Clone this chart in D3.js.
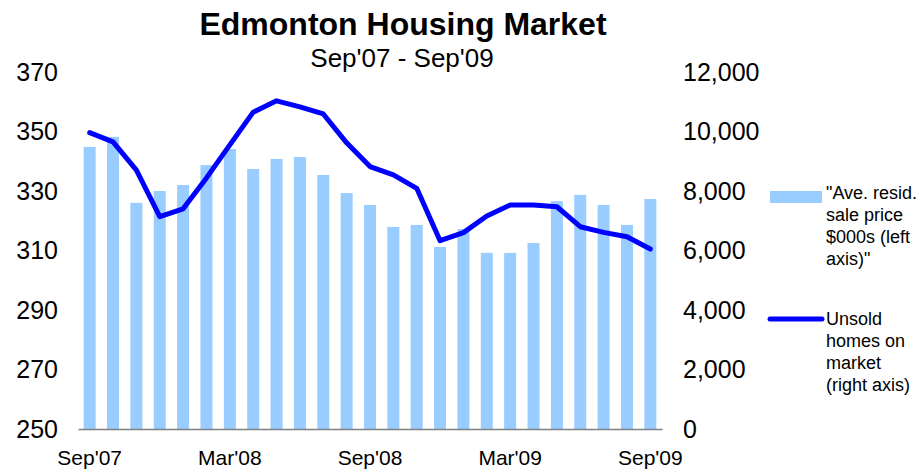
<!DOCTYPE html>
<html>
<head>
<meta charset="utf-8">
<script src="https://cdn.jsdelivr.net/npm/d3@7"></script>
<style>
  body { margin: 0; background: #ffffff; }
  svg text { font-family: "Liberation Sans", Arial, sans-serif; fill: #000; }
</style>
</head>
<body>
<script>
// Months, Sep'07 .. Sep'09.
const months = ["Sep'07", "Oct'07", "Nov'07", "Dec'07", "Jan'08", "Feb'08", "Mar'08", "Apr'08", "May'08",
                "Jun'08", "Jul'08", "Aug'08", "Sep'08", "Oct'08", "Nov'08", "Dec'08", "Jan'09", "Feb'09",
                "Mar'09", "Apr'09", "May'09", "Jun'09", "Jul'09", "Aug'09", "Sep'09"];
// Average residential sale price, $000s (left axis).
const avgPrice = [344.8, 348.2, 326, 330, 332, 338.7, 344.1, 337.4, 340.8, 341.4, 335.4, 329.3, 325.3,
                  317.9, 318.6, 311.2, 317.2, 309.2, 309.2, 312.5, 326.6, 328.7, 325.3, 318.6, 327.3];
// Unsold homes on market (right axis).
const unsold = [9960, 9650, 8700, 7140, 7400, 8440, 9550, 10650, 11030, 10830, 10590, 9620, 8820,
                8540, 8090, 6330, 6600, 7160, 7530, 7530, 7470, 6800, 6610, 6460, 6050];
// Tick labels.
const xTickLabels = ["Sep'07", "Mar'08", "Sep'08", "Mar'09", "Sep'09"];
const leftTicks = [250, 270, 290, 310, 330, 350, 370];
const rightTicks = [0, 2000, 4000, 6000, 8000, 10000, 12000];
const legendBarLines = ['"Ave. resid.', 'sale price', '$000s (left', 'axis)"'];
const legendLineLines = ['Unsold', 'homes on', 'market', '(right axis)'];

const size = {width: 923, height: 469};
const plot = {left: 78, right: 662, top: 72, bottom: 429};
const barWidth = 12;

const svg = d3.select('body')
      .append('svg')
      .attr('width', size.width)
      .attr('height', size.height);

// Scales.
const x = d3.scaleBand().domain(months).range([plot.left, plot.right]);
const xMid = (m) => x(m) + x.bandwidth() / 2;
const yLeft = d3.scaleLinear().domain([250, 370]).range([plot.bottom, plot.top]);
const yRight = d3.scaleLinear().domain([0, 12000]).range([plot.bottom, plot.top]);

// Bars.
svg.append('g')
  .selectAll('rect')
  .data(avgPrice)
  .enter()
  .append('rect')
  .attr('x', (d, i) => xMid(months[i]) - barWidth / 2)
  .attr('width', barWidth)
  .attr('y', (d) => yLeft(d))
  .attr('height', (d) => plot.bottom - yLeft(d))
  .style('fill', '#99ccff');

// Line.
const line = d3.line()
      .x((d, i) => xMid(months[i]))
      .y((d) => yRight(d));

svg.append('path')
  .datum(unsold)
  .attr('d', line)
  .style('fill', 'none')
  .style('stroke', '#0000ff')
  .style('stroke-width', 5)
  .style('stroke-linejoin', 'round')
  .style('stroke-linecap', 'round');

// X axis.
const gx = svg.append('g')
      .attr('transform', 'translate(0,' + plot.bottom + ')')
      .call(d3.axisBottom(x).tickValues(xTickLabels).tickSize(0).tickPadding(21));
gx.select('.domain').attr('stroke', '#808080').attr('stroke-width', 1.5);
gx.selectAll('text').style('font-size', '21px');

// Left axis.
const gl = svg.append('g')
      .attr('transform', 'translate(' + plot.left + ',0)')
      .call(d3.axisLeft(yLeft).tickValues(leftTicks).tickSize(0).tickPadding(20));
gl.select('.domain').remove();
gl.selectAll('text').style('font-size', '25px');

// Right axis.
const gr = svg.append('g')
      .attr('transform', 'translate(' + plot.right + ',0)')
      .call(d3.axisRight(yRight).tickValues(rightTicks).tickSize(0).tickPadding(21).tickFormat(d3.format(',')));
gr.select('.domain').remove();
gr.selectAll('text').style('font-size', '25px');

// Titles.
svg.append('text')
  .attr('x', 403)
  .attr('y', 35)
  .attr('text-anchor', 'middle')
  .style('font-size', '32px')
  .style('font-weight', 'bold')
  .text('Edmonton Housing Market');

svg.append('text')
  .attr('x', 402)
  .attr('y', 67)
  .attr('text-anchor', 'middle')
  .style('font-size', '26px')
  .text("Sep'07 - Sep'09");

// Legend.
const legend = svg.append('g');
legend.append('rect')
  .attr('x', 770)
  .attr('y', 191)
  .attr('width', 52)
  .attr('height', 12)
  .style('fill', '#99ccff');
legend.append('line')
  .attr('x1', 770)
  .attr('x2', 822)
  .attr('y1', 319)
  .attr('y2', 319)
  .style('stroke', '#0000ff')
  .style('stroke-width', 5)
  .style('stroke-linecap', 'round');

legend.selectAll('text.bar-label')
  .data(legendBarLines)
  .enter()
  .append('text')
  .attr('class', 'bar-label')
  .attr('x', 826)
  .attr('y', (d, i) => 199 + i * 22)
  .style('font-size', '18px')
  .text((d) => d);

legend.selectAll('text.line-label')
  .data(legendLineLines)
  .enter()
  .append('text')
  .attr('class', 'line-label')
  .attr('x', 826)
  .attr('y', (d, i) => 325 + i * 22)
  .style('font-size', '18px')
  .text((d) => d);
</script>
</body>
</html>
